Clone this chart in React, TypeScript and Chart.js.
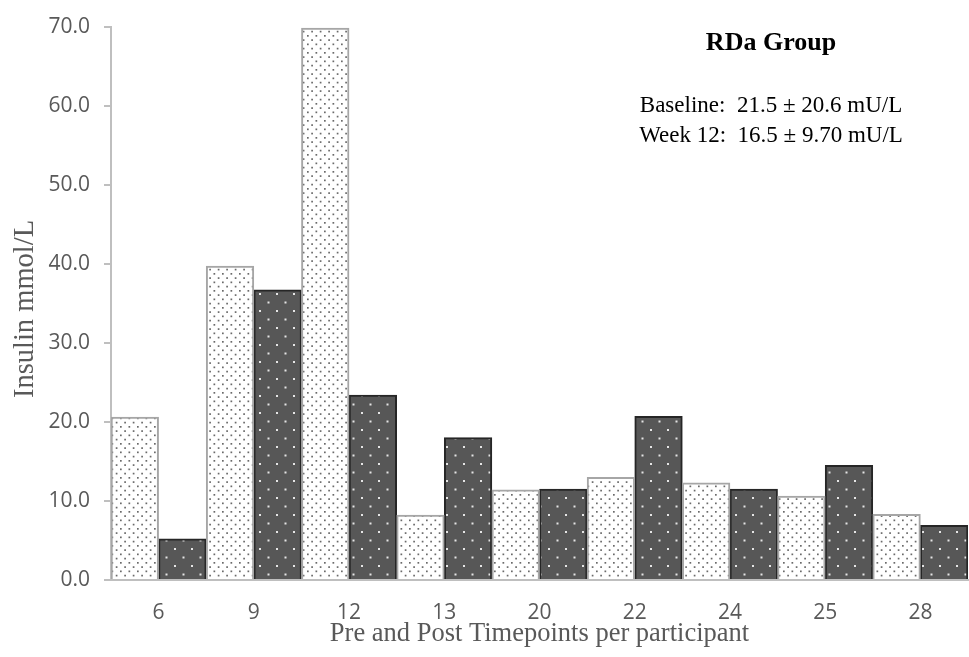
import React, { useEffect, useRef } from "react";
import { Chart, registerables } from "chart.js";

Chart.register(...registerables);

const categories = ["6", "9", "12", "13", "20", "22", "24", "25", "28"];
const baselineValues = [20.6, 39.7, 69.8, 8.2, 11.4, 13.0, 12.3, 10.6, 8.3];
const week12Values = [5.2, 36.7, 23.4, 18.0, 11.5, 20.7, 11.5, 14.5, 6.9];
const yTicks = [0, 10, 20, 30, 40, 50, 60, 70];
const titleText = "RDa Group";
const statLines = ["Baseline:  21.5 \u00b1 20.6 mU/L", "Week 12:  16.5 \u00b1 9.70 mU/L"];
const xTitle = "Pre and Post Timepoints per participant";
const yTitle = "Insulin mmol/L";

function makePattern(
  size: number,
  bg: string,
  dot: string,
  dots: [number, number][],
  r: number
): CanvasPattern | string {
  const c = document.createElement("canvas");
  c.width = size;
  c.height = size;
  const g = c.getContext("2d");
  if (!g) return bg;
  g.fillStyle = bg;
  g.fillRect(0, 0, size, size);
  g.fillStyle = dot;
  dots.forEach(([x, y]) => {
    g.fillRect(x, y, r, r);
  });
  const p = g.createPattern(c, "repeat");
  return p || bg;
}

const annotationPlugin = {
  id: "annot",
  afterDraw(chart: any) {
    const ctx = chart.ctx as CanvasRenderingContext2D;
    ctx.save();
    ctx.fillStyle = "#000";
    ctx.textAlign = "center";
    ctx.textBaseline = "alphabetic";
    ctx.font = 'bold 26px "Liberation Serif"';
    ctx.fillText(titleText, 771, 50);
    ctx.font = '23px "Liberation Serif"';
    ctx.fillText(statLines[0], 771, 112);
    ctx.fillText(statLines[1], 771, 142);
    ctx.restore();

    ctx.save();
    ctx.fillStyle = "#595959";
    ctx.font = '28.5px "Liberation Serif"';
    ctx.textAlign = "center";
    ctx.textBaseline = "alphabetic";
    ctx.translate(33, 309);
    ctx.rotate(-Math.PI / 2);
    ctx.fillText(yTitle, 0, 0);
    ctx.restore();
  },
};

export default function App() {
  const ref = useRef<HTMLCanvasElement | null>(null);

  useEffect(() => {
    if (!ref.current) return;
    const lightPattern = makePattern(
      17,
      "#ffffff",
      "#6a6a6a",
      [
        [1, 1], [9.5, 1],
        [5.25, 5.25], [13.75, 5.25],
        [1, 9.5], [9.5, 9.5],
        [5.25, 13.75], [13.75, 13.75],
      ],
      1.7
    );
    const darkPattern = makePattern(17, "#575757", "#e6e6e6", [[4, 4], [12.5, 12.5]], 2);

    const chart = new Chart(ref.current, {
      type: "bar",
      data: {
        labels: categories,
        datasets: [
          {
            label: "Baseline",
            data: baselineValues,
            backgroundColor: lightPattern as any,
            borderColor: "#a6a6a6",
            borderWidth: 2,
            categoryPercentage: 1,
            barPercentage: 1,
          },
          {
            label: "Week 12",
            data: week12Values,
            backgroundColor: darkPattern as any,
            borderColor: "#262626",
            borderWidth: 2,
            categoryPercentage: 1,
            barPercentage: 1,
          },
        ],
      },
      options: {
        responsive: false,
        animation: false,
        events: [],
        layout: { padding: { top: 22, right: 1, bottom: 0, left: 0 } },
        plugins: {
          legend: { display: false },
          tooltip: { enabled: false },
          title: { display: false },
        },
        scales: {
          x: {
            grid: { display: false },
            border: { display: true, color: "#bfbfbf", width: 2 },
            ticks: {
              color: "#595959",
              font: { family: '"Open Sans"', size: 21 },
              padding: 12,
            },
            title: {
              display: true,
              text: xTitle,
              color: "#595959",
              font: { family: '"Liberation Serif"', size: 26.5 },
              padding: { top: 0, bottom: 7 },
            },
            afterFit(scale: any) {
              scale.height = 77;
            },
          },
          y: {
            min: 0,
            max: 70,
            afterBuildTicks(scale: any) {
              scale.ticks = yTicks.map((v) => ({ value: v }));
            },
            grid: {
              drawOnChartArea: false,
              drawTicks: true,
              tickLength: 7,
              color: "#bfbfbf",
              lineWidth: 2,
            },
            border: { display: true, color: "#bfbfbf", width: 2 },
            ticks: {
              color: "#595959",
              font: { family: '"Open Sans"', size: 21 },
              padding: 14,
              callback: (v: any) => Number(v).toFixed(1),
            },
            title: { display: false },
            afterFit(scale: any) {
              scale.width = 111;
            },
          },
        },
      },
      plugins: [annotationPlugin],
    });
    return () => chart.destroy();
  }, []);

  return (
    <div style={{ position: "absolute", left: 0, top: 0, width: 969, height: 657, background: "#fff" }}>
      <canvas ref={ref} width={969} height={657} />
    </div>
  );
}
